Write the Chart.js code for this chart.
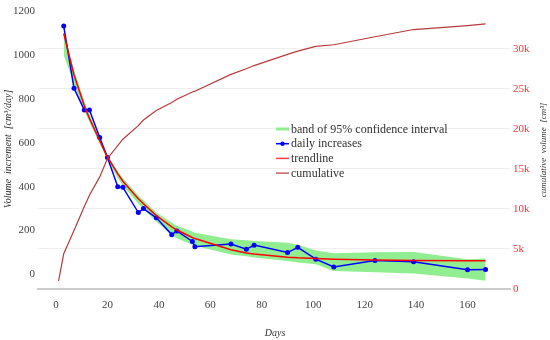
<!DOCTYPE html>
<html>
<head>
<meta charset="utf-8">
<script src="https://cdn.jsdelivr.net/npm/chart.js@4.4.0/dist/chart.umd.min.js"></script>
<style>
  body { margin: 0; background: #fff; }
  #wrap { width: 550px; height: 340px; }
</style>
</head>
<body>
<div id="wrap"><canvas id="myChart" width="550" height="340"></canvas></div>
<script>
// days of measurement
var days = [3, 7, 11, 13, 17, 20, 24, 26, 32, 34, 39, 45, 47, 53, 54, 68, 74, 77, 90, 94, 101, 108, 124, 139, 160, 167];
// daily volume increase [cm3/day]
var daily = [1134, 850, 750, 750, 625, 533, 400, 397, 282, 300, 258, 181, 198, 150, 126, 138, 114, 133, 99, 123, 69, 33, 63, 57, 21, 22];
// trendline
var trend = [1100, 910, 770, 712, 610, 535, 460, 425, 345, 322, 268, 216, 202, 168, 163, 112, 97, 92, 78, 75, 72, 69, 65, 63, 62, 62];
// 95% confidence band
var bandUpper = [1090, 935, 790, 730, 622, 545, 470, 438, 360, 338, 282, 235, 222, 195, 190, 160, 155, 152, 144, 135, 108, 96, 100, 102, 69, 72];
var bandLower = [1000, 870, 745, 695, 595, 522, 440, 405, 322, 298, 240, 180, 165, 135, 130, 90, 82, 76, 60, 54, 46, 15, 9, 3, -19, -30];
// cumulative volume [cm3]
var cumDays = [1, 3, 7, 11, 13, 17, 20, 24, 26, 32, 34, 39, 45, 47, 53, 54, 68, 74, 77, 90, 94, 101, 108, 124, 139, 160, 167];
var cumulative = [1000, 4400, 7300, 10300, 11700, 14000, 16300, 17900, 18700, 20400, 21100, 22300, 23300, 23700, 24600, 24700, 26800, 27500, 27900, 29300, 29700, 30300, 30500, 31500, 32400, 32900, 33100];

var xTicks = [0, 20, 40, 60, 80, 100, 120, 140, 160];
var leftTicks = [0, 200, 400, 600, 800, 1000, 1200];
var rightTicks = [0, 5000, 10000, 15000, 20000, 25000, 30000];

function pts(xs, ys) {
  return xs.map(function (x, i) { return { x: x, y: ys[i] }; });
}

var serif = '"Liberation Serif", "DejaVu Serif", serif';

// axis titles and legend drawn inside the plot
var extras = {
  id: 'extras',
  afterDraw: function (chart) {
    var ctx = chart.ctx;
    ctx.save();
    ctx.fillStyle = '#333';
    ctx.textAlign = 'center';
    ctx.textBaseline = 'middle';
    ctx.font = 'italic 10px ' + serif;
    ctx.fillText('Days', 275, 333);

    ctx.save();
    ctx.translate(8, 149);
    ctx.rotate(-Math.PI / 2);
    ctx.fillText('Volume  increment  [cm³/day]', 0, 0);
    ctx.restore();

    ctx.save();
    ctx.translate(544, 150);
    ctx.rotate(-Math.PI / 2);
    ctx.font = 'italic 9px ' + serif;
    ctx.fillText('cumulative  volume  [cm³]', 0, 0);
    ctx.restore();

    // legend
    var items = [
      { text: 'band of 95% confidence interval', color: '#90ee90', w: 3, dot: false },
      { text: 'daily increases', color: '#0000ff', w: 1.5, dot: true },
      { text: 'trendline', color: '#ff4040', w: 1.5, dot: false },
      { text: 'cumulative', color: '#b83a3a', w: 1.2, dot: false }
    ];
    ctx.textAlign = 'left';
    ctx.font = '12px ' + serif;
    items.forEach(function (it, i) {
      var y = 129 + i * 14.7;
      ctx.strokeStyle = it.color;
      ctx.lineWidth = it.w;
      ctx.beginPath();
      ctx.moveTo(276, y);
      ctx.lineTo(289, y);
      ctx.stroke();
      if (it.dot) {
        ctx.fillStyle = it.color;
        ctx.beginPath();
        ctx.arc(282.5, y, 2.2, 0, Math.PI * 2);
        ctx.fill();
      }
      ctx.fillStyle = '#333';
      ctx.fillText(it.text, 291, y + 0.5);
    });
    ctx.restore();
  }
};

var ctx = document.getElementById('myChart').getContext('2d');
var chart = new Chart(ctx, {
  type: 'line',
  data: {
    datasets: [
      {
        label: 'cumulative',
        data: pts(cumDays, cumulative),
        yAxisID: 'y1',
        borderColor: '#b83a3a',
        borderWidth: 1.2,
        pointRadius: 0,
        fill: false,
        order: 0
      },
      {
        label: 'trendline',
        data: pts(days, trend),
        yAxisID: 'y',
        borderColor: '#ff0000',
        borderWidth: 1.5,
        pointRadius: 0,
        fill: false,
        order: 1
      },
      {
        label: 'daily increases',
        data: pts(days, daily),
        yAxisID: 'y',
        borderColor: '#0000ff',
        borderWidth: 1.5,
        pointRadius: 2.5,
        pointBackgroundColor: '#0000ff',
        pointBorderWidth: 0,
        fill: false,
        order: 2
      },
      {
        label: 'band lower',
        data: pts(days, bandLower),
        yAxisID: 'y',
        borderWidth: 0,
        borderColor: 'rgba(0,0,0,0)',
        pointRadius: 0,
        fill: false,
        order: 4
      },
      {
        label: 'band of 95% confidence interval',
        data: pts(days, bandUpper),
        yAxisID: 'y',
        borderWidth: 0,
        borderColor: 'rgba(0,0,0,0)',
        backgroundColor: '#90ee90',
        pointRadius: 0,
        fill: '-1',
        order: 3
      }
    ]
  },
  options: {
    responsive: false,
    animation: false,
    layout: { padding: { top: 5, left: 0, right: 0, bottom: 0 } },
    elements: { line: { tension: 0 } },
    plugins: {
      legend: { display: false },
      tooltip: { enabled: false }
    },
    scales: {
      x: {
        type: 'linear',
        min: -7,
        max: 176.5,
        grid: { display: false, drawTicks: false },
        border: { display: true, color: '#cccccc', width: 2 },
        ticks: {
          color: '#444',
          font: { family: serif, size: 11 },
          padding: 10,
          callback: function (v) { return String(v); }
        },
        afterBuildTicks: function (axis) {
          axis.ticks = xTicks.map(function (v) { return { value: v }; });
        },
        afterFit: function (axis) { axis.height = 51; }
      },
      y: {
        position: 'left',
        min: -67.4,
        max: 1209,
        grid: { display: false, drawTicks: false },
        border: { display: false },
        ticks: {
          color: '#444',
          font: { family: serif, size: 11 },
          padding: 3,
          callback: function (v) { return String(v); }
        },
        afterBuildTicks: function (axis) {
          axis.ticks = leftTicks.map(function (v) { return { value: v }; });
        },
        afterFit: function (axis) { axis.width = 38; }
      },
      y1: {
        position: 'right',
        min: 0,
        max: 34889,
        grid: { color: '#eeeeee', lineWidth: 1, drawTicks: false },
        border: { display: false },
        ticks: {
          color: '#ff3030',
          font: { family: serif, size: 11 },
          padding: 3,
          callback: function (v) { return v === 0 ? '0' : (v / 1000) + 'k'; }
        },
        afterBuildTicks: function (axis) {
          axis.ticks = rightTicks.map(function (v) { return { value: v }; });
        },
        afterFit: function (axis) { axis.width = 40; }
      }
    }
  },
  plugins: [extras]
});
</script>
</body>
</html>
